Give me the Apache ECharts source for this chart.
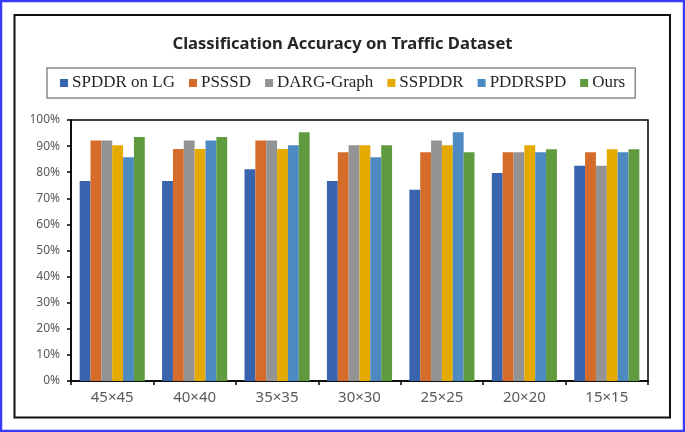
<!DOCTYPE html>
<html>
<head>
<meta charset="utf-8">
<script src="https://cdn.jsdelivr.net/npm/echarts@6/dist/echarts.min.js"></script>
<style>html,body{margin:0;padding:0;background:#fff;}#c{width:685px;height:432px;}</style>
</head>
<body>
<div id="c"></div>
<script>
var categories = ['45×45', '40×40', '35×35', '30×30', '25×25', '20×20', '15×15'];
var seriesNames = ['SPDDR on LG', 'PSSSD', 'DARG-Graph', 'SSPDDR', 'PDDRSPD', 'Ours'];
var spddrOnLG = [76.6, 76.6, 81.1, 76.6, 73.3, 79.7, 82.5];
var psssd = [92.1, 88.9, 92.1, 87.6, 87.6, 87.6, 87.6];
var dargGraph = [92.1, 92.1, 92.1, 90.3, 92.1, 87.6, 82.5];
var sspddr = [90.3, 88.9, 88.9, 90.3, 90.3, 90.3, 88.8];
var pddrspd = [85.7, 92.1, 90.3, 85.7, 95.3, 87.6, 87.6];
var ours = [93.5, 93.5, 95.3, 90.3, 87.6, 88.8, 88.8];
var yTicks = [0, 10, 20, 30, 40, 50, 60, 70, 80, 90, 100];
var colors = ['#3A63AE', '#D56C2A', '#939393', '#E5AA00', '#4E8AC2', '#5F9B3E'];
var allData = [spddrOnLG, psssd, dargGraph, sspddr, pddrspd, ours];

var chart = echarts.init(document.getElementById('c'), null, {renderer: 'canvas'});
var option = {
  animation: false,
  backgroundColor: '#fff',
  title: {
    text: 'Classification Accuracy on Traffic Dataset',
    left: 'center',
    top: 31,
    textStyle: {fontFamily: 'Noto Sans', fontWeight: 'bold', fontSize: 16.6, color: '#262626'}
  },
  legend: {
    left: 47,
    top: 68,
    padding: [6, 10, 6, 13],
    borderColor: '#8a8a8a',
    borderWidth: 1.5,
    itemWidth: 8,
    itemHeight: 8,
    itemGap: 14,
    icon: 'rect',
    textStyle: {fontFamily: 'Liberation Serif', fontSize: 17, color: '#262626', lineHeight: 18, padding: [0, 0, 0, -1]},
    data: seriesNames
  },
  grid: {
    left: 71, right: 37, top: 120, bottom: 51,
    show: true, borderColor: '#000', borderWidth: 1.5, backgroundColor: 'transparent'
  },
  xAxis: {
    type: 'category',
    data: categories,
    axisLine: {lineStyle: {color: '#000', width: 1.5}},
    axisTick: {show: true, length: 4, lineStyle: {color: '#000', width: 1.5}},
    axisLabel: {fontFamily: 'Noto Sans', fontSize: 15, color: '#595959', margin: 9}
  },
  yAxis: {
    type: 'value',
    min: 0, max: 100, interval: 10,
    axisLine: {show: true, lineStyle: {color: '#000', width: 1.5}},
    axisTick: {show: true, length: 4, lineStyle: {color: '#000', width: 1.5}},
    splitLine: {show: false},
    axisLabel: {fontFamily: 'Noto Sans', fontSize: 12, color: '#595959', margin: 11, formatter: '{value}%'}
  },
  graphic: [
    {type: 'rect', shape: {x: 1, y: 1, width: 683, height: 430}, style: {fill: 'none', stroke: '#3b3bff', lineWidth: 2.5}, z: 100},
    {type: 'rect', shape: {x: 14.5, y: 15, width: 655.5, height: 402.5}, style: {fill: 'none', stroke: '#111', lineWidth: 2}, z: 100}
  ],
  series: seriesNames.map(function (n, i) {
    return {
      name: n, type: 'bar', data: allData[i],
      barGap: '0%', barCategoryGap: '21%',
      itemStyle: {color: colors[i]}
    };
  })
};
chart.setOption(option);
</script>
</body>
</html>
